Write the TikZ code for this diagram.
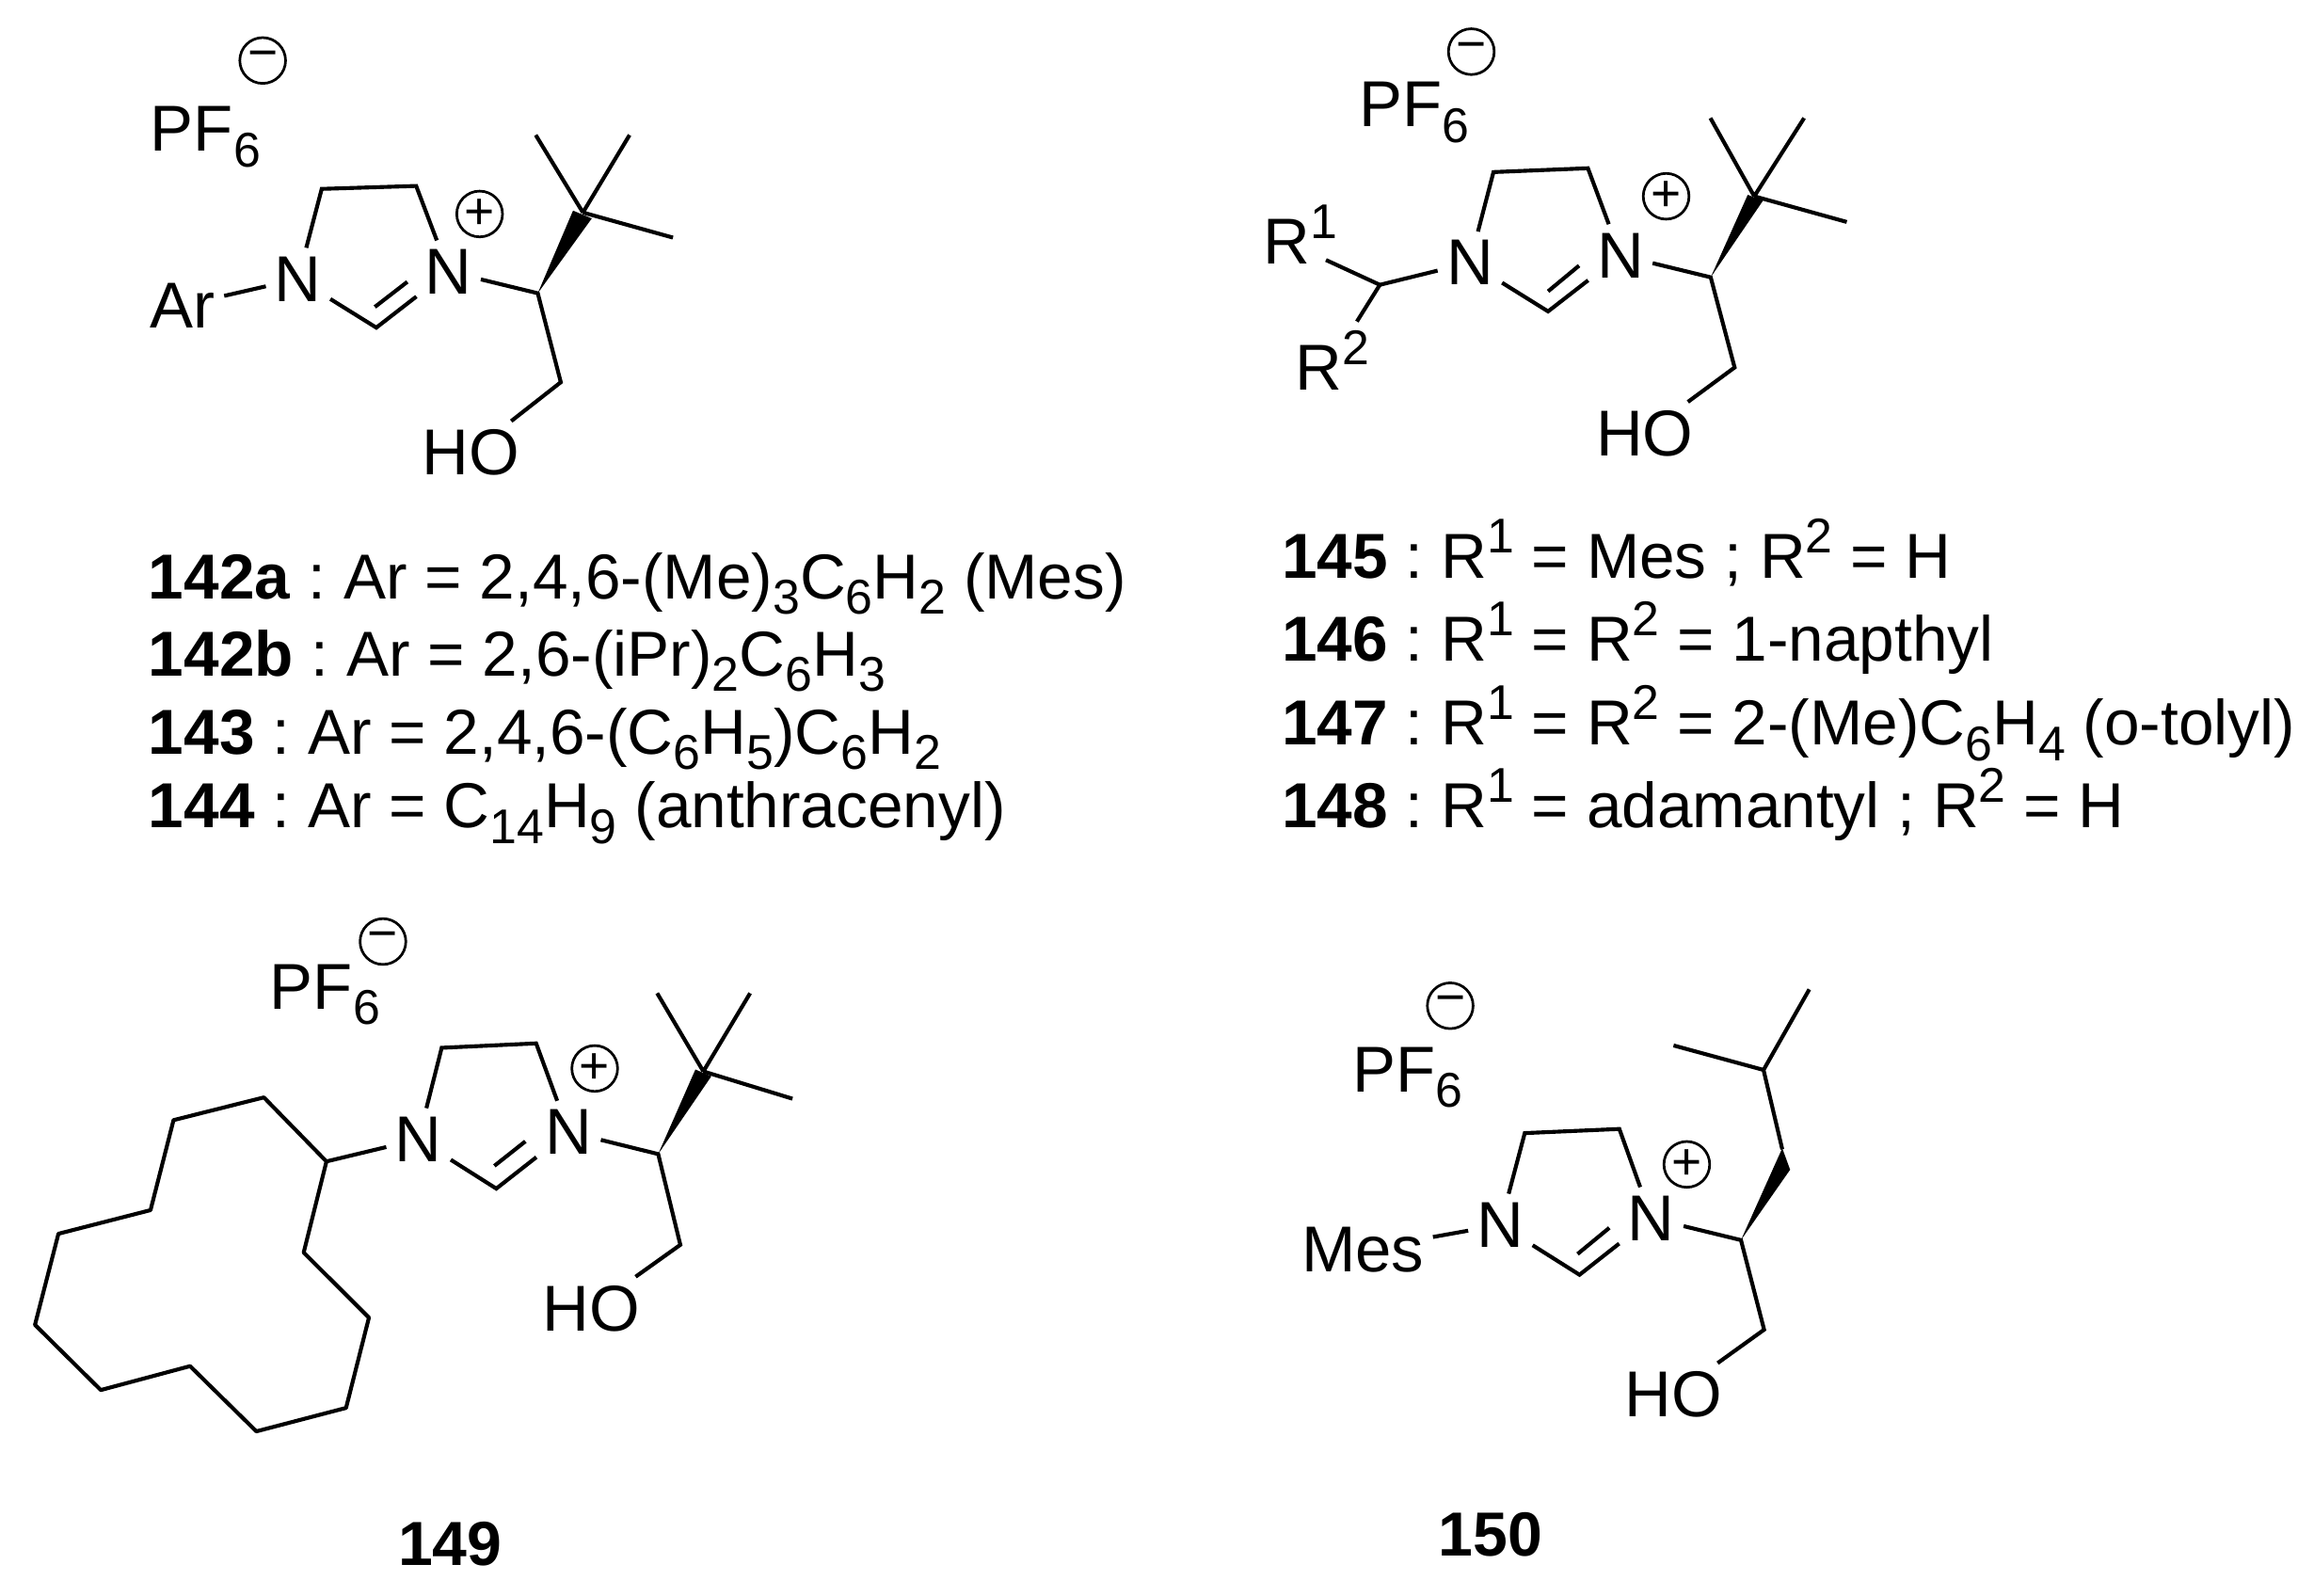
\documentclass[tikz,border=0pt]{standalone}
\usepackage{fontspec}
\setmainfont{Liberation Sans}
\usepackage{tikz}
\usetikzlibrary{calc,positioning}

\newcommand{\subtxt}[1]{\raisebox{-0.24em}{\fontsize{9.4}{10}\selectfont #1}}
\newcommand{\suptxt}[1]{\raisebox{0.4em}{\fontsize{9.4}{10}\selectfont #1}}
\newcommand{\coln}{:\kern-1.1pt}

\tikzset{
	bond/.style={line width=.75pt},
	atomlabel/.style={inner sep=1.5pt,font=\fontsize{12.5}{14}\selectfont},
	anchorlabel/.style={atomlabel,anchor=base west},
	chargemark/.style={circle,draw,line width=.5pt,inner sep=0pt,minimum size=.31cm,font=\fontsize{10}{10}\selectfont},
	listline/.style={anchor=base west,inner sep=0pt,font=\fontsize{12.25}{14}\selectfont},
	cmpdnum/.style={anchor=base,inner sep=0pt,font=\fontsize{12}{14}\selectfont\bfseries}
}

\begin{document}
\begin{tikzpicture}[x=.01cm,y=-.01cm]
	\useasboundingbox (0,0) rectangle (1568,1081);

	\node[chargemark] (a-minus) at (178,41) {−};
	\node[anchorlabel] (a-pf) at (96,102.5) {PF\subtxt{6}};
	\node[chargemark] (a-plus) at (325,145) {+};
	\node[atomlabel] (a-n1) at (202,189) {N};
	\node[atomlabel] (a-n2) at (304,184) {N};
	\node[anchorlabel] (a-ar) at (96,222) {Ar};
	\node[anchorlabel] (a-oh) at (280,322) {HO};
	\coordinate (a-c4) at (218,128);
	\coordinate (a-c5) at (282,126);
	\coordinate (a-c2) at (255,222);
	\coordinate (a-in1) at (254,208);
	\coordinate (a-in2) at (276,191);
	\coordinate (a-cs) at (364.4,198.7);
	\coordinate (a-cq) at (395,144);
	\coordinate (a-wl) at (388.3,142.7);
	\coordinate (a-wr) at (401,148);
	\coordinate (a-me1) at (363,91.5);
	\coordinate (a-me2) at (426.6,91.5);
	\coordinate (a-me3) at (456,161);
	\coordinate (a-ch) at (380,259);
	\draw[bond] (a-ar) -- (a-n1);
	\draw[bond] (a-n1) -- (a-c4) -- (a-c5) -- (a-n2);
	\draw[bond] (a-n1) -- (a-c2) -- (a-n2);
	\draw[bond] (a-in1) -- (a-in2);
	\draw[bond] (a-n2) -- (a-cs) -- (a-ch) -- (a-oh);
	\fill (a-cs) -- (a-wl) -- (a-wr) -- cycle;
	\draw[bond] (a-me1) -- (a-cq) (a-me2) -- (a-cq) (a-me3) -- (a-cq);

	\node[listline] (l-142a) at (100,406) {\textbf{142a} \coln{} Ar = 2,4,6-(Me)\subtxt{3}C\subtxt{6}H\subtxt{2} (Mes)};
	\node[listline] (l-142b) at (100,458) {\textbf{142b} \coln{} Ar = 2,6-(iPr)\subtxt{2}C\subtxt{6}H\subtxt{3}};
	\node[listline] (l-143) at (100,511) {\textbf{143} \coln{} Ar = 2,4,6-(C\subtxt{6}H\subtxt{5})C\subtxt{6}H\subtxt{2}};
	\node[listline] (l-144) at (100,561) {\textbf{144} \coln{} Ar = C\subtxt{14}H\subtxt{9} (anthracenyl)};

	\node[chargemark] (b-minus) at (997,35) {−};
	\node[anchorlabel] (b-pf) at (915,86) {PF\subtxt{6}};
	\node[chargemark] (b-plus) at (1129,133) {+};
	\node[atomlabel] (b-n1) at (996,178) {N};
	\node[atomlabel] (b-n2) at (1098,173) {N};
	\node[anchorlabel] (b-r1) at (850,179) {R\rlap{\smash{\suptxt{1}}}};
	\node[anchorlabel] (b-r2) at (872,264.5) {R\suptxt{2}};
	\node[anchorlabel] (b-oh) at (1075.6,309) {HO};
	\coordinate (b-c4) at (1012,116.6);
	\coordinate (b-c5) at (1076,114);
	\coordinate (b-c2) at (1049,211);
	\coordinate (b-in1) at (1049,197.4);
	\coordinate (b-in2) at (1070,180);
	\coordinate (b-ch) at (935,193);
	\coordinate (b-cs) at (1159.2,187.9);
	\coordinate (b-cq) at (1188.7,133);
	\coordinate (b-wl) at (1184.3,132);
	\coordinate (b-wr) at (1194.6,136);
	\coordinate (b-me1) at (1159,80);
	\coordinate (b-me2) at (1222.5,80);
	\coordinate (b-me3) at (1251.4,150.4);
	\coordinate (b-ct) at (1175.4,249);
	\draw[bond] (b-n1) -- (b-c4) -- (b-c5) -- (b-n2);
	\draw[bond] (b-n1) -- (b-c2) -- (b-n2);
	\draw[bond] (b-in1) -- (b-in2);
	\draw[bond] (b-n1) -- (b-ch);
	\draw[bond,shorten >=1.5pt] (b-ch) -- (b-r1);
	\draw[bond] (b-ch) -- (b-r2);
	\draw[bond] (b-n2) -- (b-cs) -- (b-ct) -- (b-oh);
	\fill (b-cs) -- (b-wl) -- (b-wr) -- cycle;
	\draw[bond] (b-me1) -- (b-cq) (b-me2) -- (b-cq) (b-me3) -- (b-cq);

	\node[listline] (l-145) at (868,392) {\textbf{145} \coln{} R\suptxt{1} = Mes ; R\suptxt{2} = H};
	\node[listline] (l-146) at (868,448) {\textbf{146} \coln{} R\suptxt{1} = R\suptxt{2} = 1-napthyl};
	\node[listline] (l-147) at (868,505) {\textbf{147} \coln{} R\suptxt{1} = R\suptxt{2} = 2-(Me)C\subtxt{6}H\subtxt{4} (o-tolyl)};
	\node[listline] (l-148) at (868,561) {\textbf{148} \coln{} R\suptxt{1} = adamantyl ; R\suptxt{2} = H};

	\node[chargemark] (c-minus) at (259.5,638) {−};
	\node[anchorlabel] (c-pf) at (177,683.6) {PF\subtxt{6}};
	\node[chargemark] (c-plus) at (403,724) {+};
	\node[atomlabel] (c-n1) at (283.6,772) {N};
	\node[atomlabel] (c-n2) at (385.3,767) {N};
	\node[anchorlabel] (c-oh) at (361.6,901.8) {HO};
	\coordinate (c-c4) at (299.3,710);
	\coordinate (c-c5) at (363.3,707);
	\coordinate (c-c2) at (336.3,805.4);
	\coordinate (c-in1) at (335,790);
	\coordinate (c-in2) at (356,773.4);
	\coordinate (c-cs) at (446,782);
	\coordinate (c-cq) at (476.6,726);
	\coordinate (c-wl) at (471.2,724.7);
	\coordinate (c-wr) at (482,729.3);
	\coordinate (c-me1) at (445.3,673);
	\coordinate (c-me2) at (508.3,673);
	\coordinate (c-me3) at (537,744.5);
	\coordinate (c-ct) at (461,843.5);
	\coordinate (c-r0) at (221.2,787);
	\coordinate (c-r1) at (178.8,743.6);
	\coordinate (c-r2) at (117.6,759);
	\coordinate (c-r3) at (102,820);
	\coordinate (c-r4) at (39.6,836);
	\coordinate (c-r5) at (23.7,897.7);
	\coordinate (c-r6) at (68.3,941.9);
	\coordinate (c-r7) at (128.8,925.7);
	\coordinate (c-r8) at (173.7,969.9);
	\coordinate (c-r9) at (234.5,954);
	\coordinate (c-r10) at (250,892.8);
	\coordinate (c-r11) at (205.8,848.7);
	\draw[bond] (c-n1) -- (c-c4) -- (c-c5) -- (c-n2);
	\draw[bond] (c-n1) -- (c-c2) -- (c-n2);
	\draw[bond] (c-in1) -- (c-in2);
	\draw[bond] (c-n1) -- (c-r0);
	\draw[bond,line join=round] (c-r0) -- (c-r1) -- (c-r2) -- (c-r3) -- (c-r4) -- (c-r5) -- (c-r6) -- (c-r7) -- (c-r8) -- (c-r9) -- (c-r10) -- (c-r11) -- cycle;
	\draw[bond] (c-n2) -- (c-cs) -- (c-ct) -- (c-oh);
	\fill (c-cs) -- (c-wl) -- (c-wr) -- cycle;
	\draw[bond] (c-me1) -- (c-cq) (c-me2) -- (c-cq) (c-me3) -- (c-cq);
	\node[cmpdnum] (c-num) at (305,1061) {149};

	\node[chargemark] (d-minus) at (982.7,681.5) {−};
	\node[anchorlabel] (d-pf) at (910.7,739.7) {PF\subtxt{6}};
	\node[chargemark] (d-plus) at (1143,789) {+};
	\node[atomlabel] (d-n1) at (1016.7,830) {N};
	\node[atomlabel] (d-n2) at (1119,825.5) {N};
	\node[anchorlabel] (d-mes) at (876,861.6) {Mes};
	\node[anchorlabel] (d-oh) at (1095,960.3) {HO};
	\coordinate (d-c4) at (1033.2,767.8);
	\coordinate (d-c5) at (1097.3,765);
	\coordinate (d-c2) at (1070.3,863.8);
	\coordinate (d-in1) at (1069,849.7);
	\coordinate (d-in2) at (1090.5,832);
	\coordinate (d-cs) at (1179.7,840.3);
	\coordinate (d-wl) at (1207.7,778);
	\coordinate (d-wr) at (1213,792.6);
	\coordinate (d-cb) at (1207.7,778.8);
	\coordinate (d-ci) at (1195,725);
	\coordinate (d-me1) at (1134,708.4);
	\coordinate (d-me2) at (1226,670.4);
	\coordinate (d-ct) at (1195.4,901);
	\draw[bond] (d-mes) -- (d-n1);
	\draw[bond] (d-n1) -- (d-c4) -- (d-c5) -- (d-n2);
	\draw[bond] (d-n1) -- (d-c2) -- (d-n2);
	\draw[bond] (d-in1) -- (d-in2);
	\draw[bond] (d-n2) -- (d-cs) -- (d-ct) -- (d-oh);
	\fill (d-cs) -- (d-wl) -- (d-wr) -- cycle;
	\draw[bond] (d-cb) -- (d-ci) -- (d-me1) (d-ci) -- (d-me2);
	\node[cmpdnum] (d-num) at (1010,1054.5) {150};
\end{tikzpicture}
\end{document}
